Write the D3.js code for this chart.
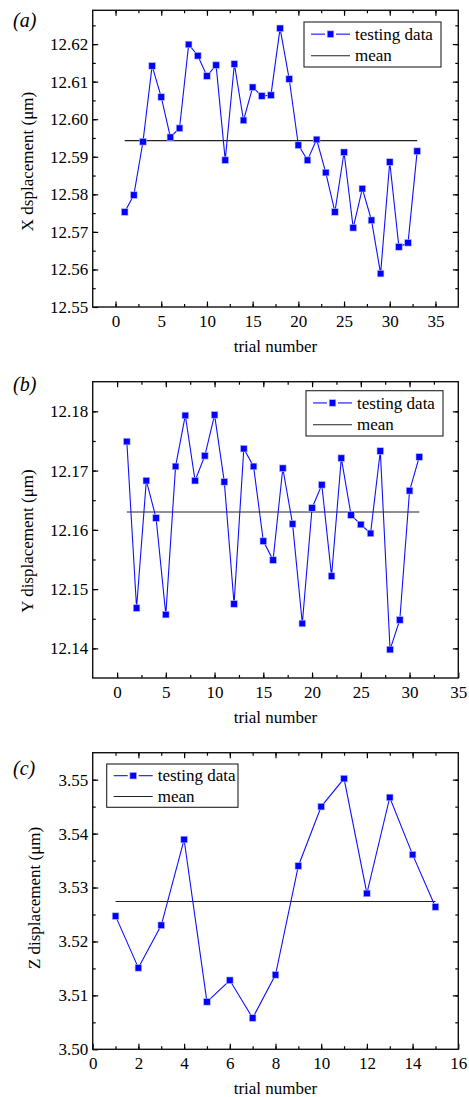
<!DOCTYPE html>
<html><head><meta charset="utf-8">
<script src="https://cdn.jsdelivr.net/npm/d3@7"></script>
<style>
body{margin:0;background:#fff;}
</style></head>
<body><svg id="c" width="469" height="1097"></svg>
<script>
// ---- data ----
const xDispA = [12.5753,12.5798,12.5940,12.6142,12.6059,12.5952,12.5976,12.6199,12.6169,12.6115,12.6144,12.5891,12.6147,12.5997,12.6085,12.6062,12.6064,12.6242,12.6107,12.5931,12.5891,12.5946,12.5858,12.5753,12.5912,12.5711,12.5815,12.5731,12.5589,12.5886,12.5660,12.5671,12.5915];
const xMeanA = 12.5943;
const yDispB = [12.1749,12.1468,12.1683,12.1620,12.1457,12.1707,12.1793,12.1683,12.1725,12.1794,12.1681,12.1475,12.1737,12.1707,12.1581,12.1549,12.1704,12.1610,12.1442,12.1637,12.1676,12.1522,12.1721,12.1625,12.1609,12.1594,12.1733,12.1398,12.1448,12.1666,12.1723];
const yMeanB = 12.1630;
const zDispC = [3.5247,3.5151,3.5230,3.5389,3.5088,3.5128,3.5058,3.5138,3.5340,3.5450,3.5502,3.5289,3.5467,3.5361,3.5264];
const zMeanC = 3.5274;
const panelLabels = ["(a)","(b)","(c)"];
const yTitles = ["X dsplacement (\u03bcm)","Y displacement (\u03bcm)","Z displacement (\u03bcm)"];
const xTitle = "trial number";
const legendLabels = ["testing data","mean"];
const xTicksAB = [0,5,10,15,20,25,30,35];
const xTicksC = [0,2,4,6,8,10,12,14,16];
const yTicksA = [12.55,12.56,12.57,12.58,12.59,12.60,12.61,12.62];
const yTicksB = [12.14,12.15,12.16,12.17,12.18];
const yTicksC = [3.50,3.51,3.52,3.53,3.54,3.55];

const svg = d3.select("#c");
const L = 92.7, R = 458.3;
const FF = '"Liberation Serif"';

const panels = [
 {data:xDispA, mean:xMeanA, top:10.3, bottom:307, xd:[-2.5,37.5], yd:[12.55,12.629], xt:xTicksAB, xminor:2.5, yt:yTicksA, yminor:0.005,
  label:panelLabels[0], ytitle:yTitles[0], titleX:33, titleY:161.5, labelY:27, leg:{x:304,y:22,w:137,h:45}},
 {data:yDispB, mean:yMeanB, top:381.7, bottom:678, xd:[-2.5,35], yd:[12.135,12.185], xt:xTicksAB, xminor:2.5, yt:yTicksB, yminor:0.005,
  label:panelLabels[1], ytitle:yTitles[1], titleX:33, titleY:541, labelY:391, leg:{x:306,y:390.7,w:137,h:45.3}},
 {data:zDispC, mean:zMeanC, top:752.7, bottom:1049.3, xd:[0,16], yd:[3.50,3.555], xt:xTicksC, xminor:1, yt:yTicksC, yminor:0.005,
  label:panelLabels[2], ytitle:yTitles[2], titleX:40, titleY:898, labelY:775, leg:{x:106.7,y:764,w:131.3,h:43.3}}
];

panels.forEach(p => {
  const x = d3.scaleLinear().domain(p.xd).range([L,R]);
  const y = d3.scaleLinear().domain(p.yd).range([p.bottom,p.top]);
  const fs = "17px";
  const minorX = d3.range(Math.ceil(p.xd[0]/p.xminor)*p.xminor, p.xd[1]+1e-9, p.xminor).filter(v=>v>p.xd[0]+1e-9 && v<p.xd[1]-1e-9);
  const minorY = d3.range(0,200).map(k=>+(p.yd[0]+k*p.yminor).toFixed(4)).filter(v=>v>p.yd[0]+1e-9 && v<p.yd[1]-1e-9);
  const fmt = d3.format(".2f");
  const xMajor = p.xt.filter(v=>v>p.xd[0] && v<p.xd[1]-1e-9);

  function style(g){ g.attr("font-family",null).attr("font-size",null); g.select(".domain").remove(); g.selectAll("line").attr("stroke","#000").attr("stroke-width",1.2); g.selectAll("text").style("font-size",fs).style("font-family",FF).attr("fill","#000"); }

  // minor ticks
  svg.append("g").attr("transform",`translate(0,${p.bottom})`).call(d3.axisBottom(x).tickValues(minorX).tickSize(-3).tickFormat("")).call(style);
  svg.append("g").attr("transform",`translate(0,${p.top})`).call(d3.axisTop(x).tickValues(minorX).tickSize(-3).tickFormat("")).call(style);
  svg.append("g").attr("transform",`translate(${L},0)`).call(d3.axisLeft(y).tickValues(minorY).tickSize(-3).tickFormat("")).call(style);
  svg.append("g").attr("transform",`translate(${R},0)`).call(d3.axisRight(y).tickValues(minorY).tickSize(-3).tickFormat("")).call(style);
  // major ticks
  svg.append("g").attr("transform",`translate(0,${p.bottom})`).call(d3.axisBottom(x).tickValues(p.xt).tickSize(-5.5).tickPadding(8).tickFormat(d3.format("d"))).call(style);
  svg.append("g").attr("transform",`translate(0,${p.top})`).call(d3.axisTop(x).tickValues(xMajor).tickSize(-5.5).tickFormat("")).call(style);
  svg.append("g").attr("transform",`translate(${L},0)`).call(d3.axisLeft(y).tickValues(p.yt).tickSize(-5.5).tickPadding(4.4).tickFormat(fmt)).call(style);
  svg.append("g").attr("transform",`translate(${R},0)`).call(d3.axisRight(y).tickValues(p.yt.filter(v=>v>p.yd[0]+1e-9)).tickSize(-5.5).tickFormat("")).call(style);

  // frame
  svg.append("rect").attr("x",L).attr("y",p.top).attr("width",R-L).attr("height",p.bottom-p.top)
    .attr("fill","none").attr("stroke","#111").attr("stroke-width",1.4);

  // mean line
  svg.append("line").attr("x1",x(1)).attr("x2",x(p.data.length)).attr("y1",y(p.mean)).attr("y2",y(p.mean))
    .attr("stroke","#222").attr("stroke-width",1.1);

  // data line
  const line = d3.line().x((d,i)=>x(i+1)).y(d=>y(d));
  svg.append("path").datum(p.data).attr("d",line).attr("fill","none").attr("stroke","#1010ff").attr("stroke-width",1.1);
  const ms = 6.6;
  svg.append("g").selectAll("rect").data(p.data).join("rect")
    .attr("x",(d,i)=>x(i+1)-ms/2).attr("y",d=>y(d)-ms/2).attr("width",ms).attr("height",ms)
    .attr("fill","#0000ff").attr("stroke","#b8b8ff").attr("stroke-width",0.6);

  // titles
  const T = (sel)=>sel.style("font-family",FF).style("font-size",fs);
  svg.append("text").attr("x",(L+R)/2).attr("y",p.bottom+45).attr("text-anchor","middle").call(T).text(xTitle);
  svg.append("text").attr("transform",`translate(${p.titleX},${p.titleY}) rotate(-90)`).attr("text-anchor","middle").call(T).text(p.ytitle);
  svg.append("text").attr("x",13).attr("y",p.labelY).style("font-family",FF).style("font-size","20px").style("font-style","italic").text(p.label);

  // legend
  const lg = p.leg;
  svg.append("rect").attr("x",lg.x).attr("y",lg.y).attr("width",lg.w).attr("height",lg.h).attr("fill","#fff").attr("stroke","#222").attr("stroke-width",1.1);
  const y1 = lg.y + lg.h*0.27, y2 = lg.y + lg.h*0.75;
  const lx1 = lg.x+7, lx2 = lg.x+46, mx = (lx1+lx2)/2;
  svg.append("line").attr("x1",lx1).attr("x2",mx-5.5).attr("y1",y1).attr("y2",y1).attr("stroke","#1010ff").attr("stroke-width",1.1);
  svg.append("line").attr("x1",mx+5.5).attr("x2",lx2).attr("y1",y1).attr("y2",y1).attr("stroke","#1010ff").attr("stroke-width",1.1);
  svg.append("rect").attr("x",mx-ms/2).attr("y",y1-ms/2).attr("width",ms).attr("height",ms).attr("fill","#0000ff").attr("stroke","#b8b8ff").attr("stroke-width",0.6);
  svg.append("line").attr("x1",lx1).attr("x2",lx2).attr("y1",y2).attr("y2",y2).attr("stroke","#222").attr("stroke-width",1.1);
  svg.append("text").attr("x",lx2+5).attr("y",y1).attr("dy","0.33em").call(T).text(legendLabels[0]);
  svg.append("text").attr("x",lx2+5).attr("y",y2).attr("dy","0.33em").call(T).text(legendLabels[1]);
});
</script></body></html>
